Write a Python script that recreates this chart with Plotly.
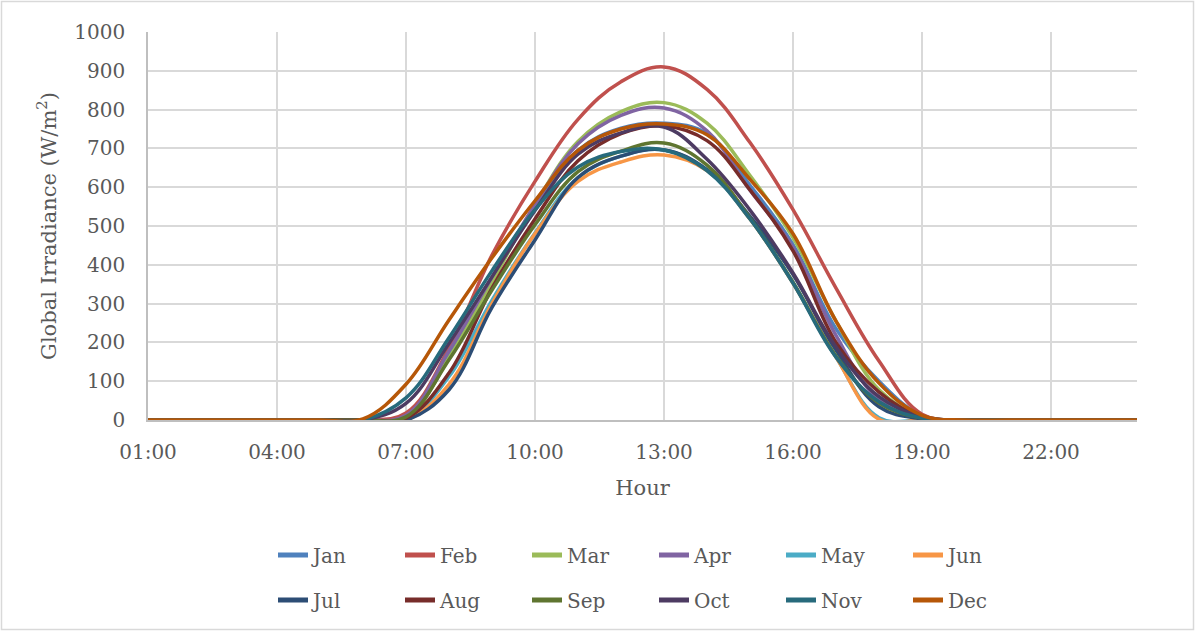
import plotly.graph_objects as go

hours = list(range(1, 25))
hour_labels = [f"{h:02d}:00" for h in hours]
tick_hours = [1, 4, 7, 10, 13, 16, 19, 22]

months = ["Jan", "Feb", "Mar", "Apr", "May", "Jun",
          "Jul", "Aug", "Sep", "Oct", "Nov", "Dec"]

Z5 = [0, 0, 0, 0, 0]
Z5b = [0, 0, 0, 0, 0]
jan = Z5 + [0, 10, 172, 362, 548, 695, 752, 765, 738, 605, 452, 235, 100, 12] + Z5b
feb = Z5 + [0, 18, 185, 425, 615, 775, 872, 910, 852, 715, 542, 340, 152, 15] + Z5b
mar = Z5 + [0, 5, 160, 355, 555, 718, 795, 818, 765, 630, 470, 255, 78, 8] + Z5b
apr = Z5 + [0, 12, 178, 368, 555, 712, 785, 804, 745, 592, 445, 218, 52, 5] + Z5b
may = Z5 + [0, 0, 112, 309, 482, 625, 680, 696, 643, 518, 353, 162, 6, 0] + Z5b
jun = Z5 + [0, 0, 92, 300, 480, 615, 665, 683, 643, 518, 353, 162, 2, 0] + Z5b
jul = Z5 + [0, 0, 78, 290, 464, 625, 680, 696, 645, 525, 375, 180, 34, 3] + Z5b
aug = Z5 + [0, 5, 121, 340, 518, 668, 738, 758, 720, 593, 436, 200, 72, 8] + Z5b
sep = Z5 + [0, 8, 155, 335, 503, 640, 693, 714, 657, 520, 355, 165, 44, 5] + Z5b
oct_ = Z5 + [0, 43, 198, 369, 540, 685, 740, 755, 672, 541, 379, 188, 60, 8] + Z5b
nov = Z5 + [0, 57, 212, 385, 542, 652, 692, 696, 643, 518, 353, 162, 47, 5] + Z5b
dec = Z5 + [3, 92, 258, 418, 565, 695, 750, 763, 735, 620, 480, 255, 95, 12] + Z5b

series = [jan, feb, mar, apr, may, jun, jul, aug, sep, oct_, nov, dec]
colors = ["#4F81BD", "#C0504D", "#9BBB59", "#8064A2", "#4BACC6", "#F79646",
          "#2C4D75", "#772C2A", "#5F7530", "#4D3B62", "#276A7C", "#B65708"]

FONT = "DejaVu Serif"
TXT = "#595959"

fig = go.Figure()
for i, (m, ys, c) in enumerate(zip(months, series, colors)):
    fig.add_trace(go.Scatter(
        x=hours, y=ys, name=m, mode="lines",
        line=dict(color=c, width=3.5, shape="spline", smoothing=1.1),
        legend="legend" if i < 6 else "legend2",
    ))

W, H = 1195, 631
L, R, T, B = 148, 1137, 32, 420
pw, ph = R - L, B - T

def px_to_paper_y(py):
    return (B - py) / ph

def px_to_paper_x(px):
    return (px - L) / pw

legend_common = dict(
    orientation="h", xanchor="center", yanchor="middle",
    x=px_to_paper_x(654), entrywidth=82, entrywidthmode="pixels",
    font=dict(family=FONT, size=20, color=TXT), bgcolor="rgba(0,0,0,0)",
    itemsizing="constant", tracegroupgap=0,
)

fig.update_layout(
    width=W, height=H,
    margin=dict(l=L, r=W - R, t=T, b=H - B),
    paper_bgcolor="white", plot_bgcolor="white",
    font=dict(family=FONT, color=TXT, size=20),
    showlegend=True,
    legend=dict(legend_common, y=px_to_paper_y(555)),
    legend2=dict(legend_common, y=px_to_paper_y(600)),
    xaxis=dict(
        range=[1, 24], tickmode="array", tickvals=tick_hours,
        ticktext=[hour_labels[h - 1] for h in tick_hours],
        showgrid=True, gridcolor="#D9D9D9", gridwidth=1.5,
        showline=True, linecolor="#BFBFBF", linewidth=1.5,
        ticks="", ticklabelstandoff=13, zeroline=False,
        tickfont=dict(family=FONT, size=20, color=TXT),
        title=dict(text="Hour", font=dict(family=FONT, size=21, color=TXT), standoff=18),
    ),
    yaxis=dict(
        range=[0, 1000], tickmode="linear", tick0=0, dtick=100,
        showgrid=True, gridcolor="#D9D9D9", gridwidth=1.5,
        showline=True, linecolor="#BFBFBF", linewidth=1.5,
        ticks="", ticklabelstandoff=17, zeroline=False,
        tickfont=dict(family=FONT, size=20, color=TXT),
        title=dict(text="Global Irradiance (W/m<sup>2</sup>)",
                   font=dict(family=FONT, size=21, color=TXT), standoff=12),
    ),
    shapes=[dict(
        type="rect", xref="paper", yref="paper",
        x0=px_to_paper_x(1.5), x1=px_to_paper_x(W - 1.5),
        y0=px_to_paper_y(H - 1.5), y1=px_to_paper_y(1.5),
        line=dict(color="#D9D9D9", width=1.5), layer="below",
    )],
)

fig.write_html("out.html")
